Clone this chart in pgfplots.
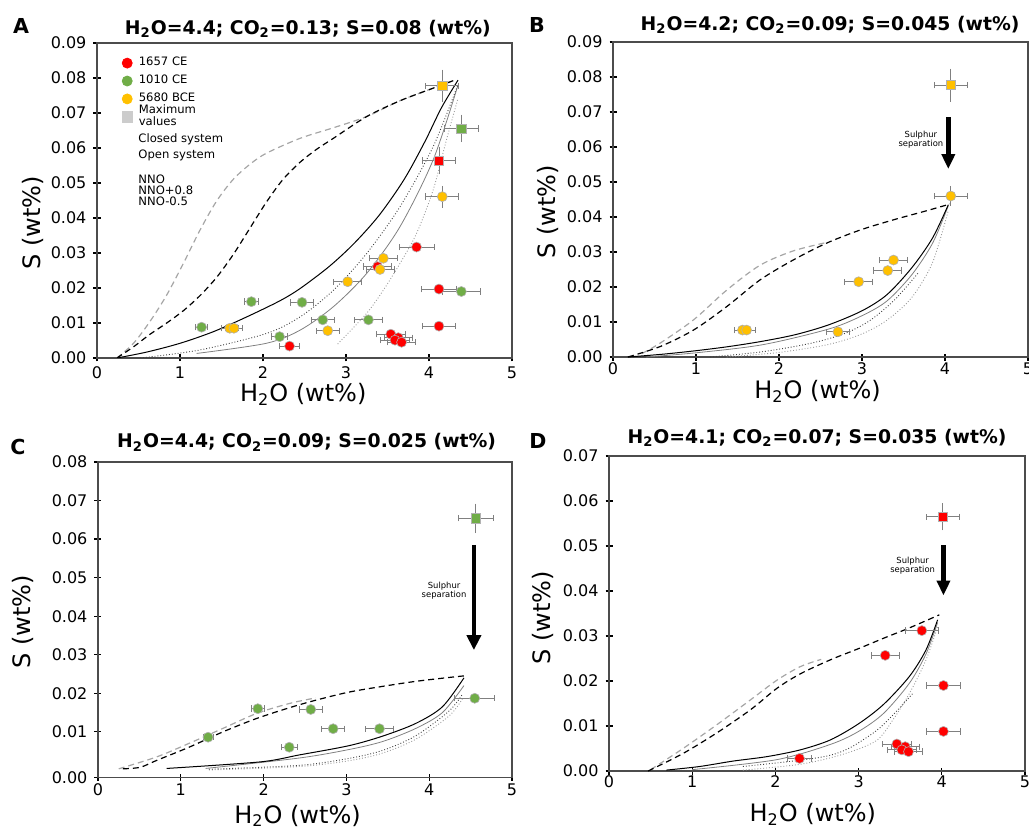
\documentclass[border=0pt]{standalone}
\usepackage{fontspec}
\setmainfont{DejaVu Sans}
\usepackage{pgfplots}
\pgfplotsset{compat=1.18}
\usetikzlibrary{arrows.meta}

\definecolor{c1657}{HTML}{FF0000}
\definecolor{c1010}{HTML}{70AD47}
\definecolor{c5680}{HTML}{FFC000}

\pgfplotsset{
  panel/.style={
    scale only axis,
    xmin=0, xmax=5, xtick={0,...,5},
    axis line style={draw=black!70, line width=0.6pt},
    tick style={black, line width=0.6pt},
    tick align=center, major tick length=3.5pt, tick pos=left,
    ticklabel style={font=\fontsize{8}{9}\selectfont},
    /pgf/number format/assume math mode=true,
    scaled y ticks=false,
    yticklabel style={/pgf/number format/fixed, /pgf/number format/fixed zerofill, /pgf/number format/precision=2},
    xlabel={H\textsubscript{2}O (wt\%)},
    ylabel={S (wt\%)},
    label style={font=\fontsize{12}{14}\selectfont},
    title style={font=\bfseries\fontsize{9.4}{11}\selectfont, anchor=base},
  },
  % circles / squares with horizontal error bars
  pts/.style={only marks, mark=*, mark size=2.5pt,
    mark options={draw=gray!60, line width=0.3pt, fill=#1},
    /pgfplots/error bars/x dir=both, /pgfplots/error bars/x explicit,
    /pgfplots/error bars/error bar style={gray, line width=0.4pt},
    /pgfplots/error bars/error mark options={gray, line width=0.4pt, mark size=1.6pt, rotate=90}},
  maxpt/.style={pts=#1, mark=square*, mark size=2.3pt},
  % vertical error bars only, no marks
  yerr/.style={only marks, mark=none, forget plot,
    /pgfplots/error bars/y dir=both, /pgfplots/error bars/y explicit,
    /pgfplots/error bars/error bar style={gray, line width=0.4pt},
    /pgfplots/error bars/error mark options={gray, line width=0.4pt, mark size=1.6pt}},
  cNNO/.style={black, line width=0.6pt, dash pattern=on 3pt off 2pt, smooth, no marks, forget plot},
  cNNOp/.style={black!35, line width=0.6pt, dash pattern=on 3pt off 2pt, smooth, no marks, forget plot},
  oNNO/.style={black, line width=0.5pt, smooth, no marks, forget plot},
  oNNOp/.style={black!50, line width=0.4pt, smooth, no marks, forget plot},
  oNNOm/.style={black!75, line width=0.45pt, densely dotted, smooth, no marks, forget plot},
  oNNOmm/.style={black!40, line width=0.45pt, densely dotted, smooth, no marks, forget plot},
}

% panel A
\pgfplotstableread{
x y ex ey
3.85 0.0317 0.21 0
3.38 0.0261 0.17 0
4.12 0.0197 0.21 0
4.12 0.0091 0.20 0
2.32 0.0034 0.12 0
3.54 0.0068 0.17 0
3.63 0.0058 0.17 0
3.59 0.0051 0.17 0
3.67 0.0045 0.17 0
}\Ared
\pgfplotstableread{
x y ex ey
4.12 0.0564 0.20 0.003
}\Aredmax
\pgfplotstableread{
x y ex ey
4.39 0.0190 0.23 0
1.86 0.0161 0.08 0
2.47 0.0159 0.14 0
2.72 0.0109 0.14 0
3.27 0.0109 0.17 0
1.26 0.0088 0.07 0
2.20 0.0061 0.10 0
}\Agreen
\pgfplotstableread{
x y ex ey
4.39 0.0656 0.21 0.003
}\Agreenmax
\pgfplotstableread{
x y ex ey
4.16 0.0461 0.20 0.0022
3.45 0.0285 0.17 0
3.41 0.0253 0.17 0
3.02 0.0218 0.17 0
1.60 0.0085 0.10 0
1.65 0.0085 0.10 0
2.78 0.0078 0.14 0
}\Ayellow
\pgfplotstableread{
x y ex ey
4.16 0.0778 0.20 0.0037
}\Ayellowmax

% panel B
\pgfplotstableread{
x y ex ey
4.07 0.0460 0.20 0.002
3.38 0.0277 0.17 0
3.31 0.0247 0.17 0
2.96 0.0215 0.17 0
2.71 0.0072 0.14 0
1.56 0.0077 0.10 0
1.61 0.0077 0.10 0
}\Byellow
\pgfplotstableread{
x y ex ey
4.07 0.0777 0.20 0.0038
}\Byellowmax

% panel C
\pgfplotstableread{
x y ex ey
4.55 0.0187 0.24 0
1.93 0.0160 0.08 0
2.57 0.0158 0.14 0
2.84 0.0108 0.14 0
3.40 0.0108 0.17 0
1.33 0.0086 0.06 0
2.31 0.0060 0.10 0
}\Cgreen
\pgfplotstableread{
x y ex ey
4.56 0.0654 0.21 0.003
}\Cgreenmax

% panel D
\pgfplotstableread{
x y ex ey
3.76 0.0312 0.20 0
3.32 0.0257 0.17 0
4.02 0.0190 0.20 0
4.02 0.0088 0.20 0
3.46 0.0060 0.17 0
3.56 0.0054 0.17 0
3.52 0.0047 0.17 0
3.60 0.0043 0.17 0
2.29 0.0028 0.14 0
}\Dred
\pgfplotstableread{
x y ex ey
4.01 0.0565 0.20 0.0023
}\Dredmax

\begin{document}
\begin{tikzpicture}[x=1pt,y=1pt]
\useasboundingbox (0,0) rectangle (514.5,416);

% ---------------- A ----------------
\begin{axis}[panel, at={(48.5pt,237pt)}, anchor=south west,
  width=207.5pt, height=157.5pt,
  ymin=0, ymax=0.09, ytick={0,0.01,...,0.09},
  xticklabel style={yshift=1pt},
  title={H\textsubscript{2}O=4.4; CO\textsubscript{2}=0.13; S=0.08 (wt\%)},
  title style={at={(axis description cs:0.508,1)}, yshift=-1.7pt},
  xlabel style={at={(axis description cs:0.497,0)}, anchor=base, yshift=-21.8pt},
  ylabel style={at={(axis description cs:-0.154,0.43)}, anchor=center},
  legend style={at={(rel axis cs:0.055,0.961)}, anchor=north west, draw=none, fill=none,
    font=\fontsize{5.8}{5.9}\selectfont, row sep=1.55pt, inner sep=0pt,
    nodes={inner sep=0.8pt}},
  legend cell align=left,
  legend image code/.code={\path[draw=none, fill=none] (0pt,0pt) -- (8.5pt,0pt);
    \draw[mark repeat=2,mark phase=2,#1] plot coordinates {(0pt,0pt)(3.5pt,0pt)(7pt,0pt)};},
]
\addlegendimage{only marks, mark=*, mark size=2.5pt, mark options={draw=c1657, fill=c1657}}
\addlegendentry{1657 CE}
\addlegendimage{only marks, mark=*, mark size=2.5pt, mark options={draw=c1010, fill=c1010}}
\addlegendentry{1010 CE}
\addlegendimage{only marks, mark=*, mark size=2.5pt, mark options={draw=c5680, fill=c5680}}
\addlegendentry{5680 BCE}
\addlegendimage{only marks, mark=square*, mark size=2.6pt, mark options={draw=black!20, fill=black!20}}
\addlegendentry{\vphantom{0}\smash{\begin{tabular}[c]{@{}l@{}}Maximum\\values\end{tabular}}}

\addplot[cNNOp] coordinates {(0.24,0) (0.44,0.0042) (0.64,0.0105) (0.84,0.018) (1.04,0.027) (1.24,0.0365) (1.44,0.0448) (1.64,0.051) (1.84,0.0553) (2.04,0.0585) (2.45,0.0628) (2.85,0.0658) (3.25,0.069) (3.65,0.0735) (4.05,0.0771) (4.31,0.0794)};
\addplot[cNNO] coordinates {(0.24,0) (0.44,0.0032) (0.64,0.0068) (0.84,0.01) (1.04,0.0135) (1.24,0.0178) (1.44,0.023) (1.64,0.0295) (1.84,0.037) (2.04,0.0445) (2.24,0.051) (2.45,0.056) (2.65,0.0597) (2.85,0.0628) (3.25,0.069) (3.65,0.0735) (4.05,0.0771) (4.31,0.0794)};
\addplot[oNNOmm] coordinates {(2.9,0.004) (3.25,0.0128) (3.45,0.0194) (3.65,0.027) (3.85,0.0356) (4.05,0.048) (4.21,0.0623) (4.35,0.0742)};
\addplot[oNNOp] coordinates {(1.2,0.0013) (2.04,0.0042) (2.45,0.008) (2.85,0.0147) (3.25,0.0242) (3.65,0.0375) (4.05,0.0566) (4.35,0.078)};
\addplot[oNNOm] coordinates {(0.52,0) (1.24,0.0023) (2.04,0.007) (2.45,0.0118) (2.85,0.0194) (3.25,0.0299) (3.65,0.0432) (4.05,0.0604) (4.35,0.0782)};
\addplot[oNNO] coordinates {(0.24,0) (0.6,0.0017) (1.0,0.0042) (1.4,0.0075) (1.8,0.0117) (2.2,0.0163) (2.45,0.0199) (2.8,0.0262) (3.1,0.0328) (3.4,0.0408) (3.7,0.051) (3.95,0.0618) (4.15,0.0715) (4.35,0.0794)};

\addplot[yerr] table[x=x, y=y, y error=ey] {\Aredmax};
\addplot[yerr] table[x=x, y=y, y error=ey] {\Agreenmax};
\addplot[yerr] table[x=x, y=y, y error=ey] {\Ayellowmax};
\addplot[yerr] table[x=x, y=y, y error=ey] {\Ayellow};
\addplot[pts=c1657] table[x=x, y=y, x error=ex] {\Ared};
\addplot[maxpt=c1657] table[x=x, y=y, x error=ex] {\Aredmax};
\addplot[pts=c1010] table[x=x, y=y, x error=ex] {\Agreen};
\addplot[maxpt=c1010] table[x=x, y=y, x error=ex] {\Agreenmax};
\addplot[pts=c5680] table[x=x, y=y, x error=ex] {\Ayellow};
\addplot[maxpt=c5680] table[x=x, y=y, x error=ex] {\Ayellowmax};

\node[anchor=west, inner sep=0pt, font=\fontsize{5.8}{5.9}\selectfont] at (rel axis cs:0.099,0.694) {Closed system};
\node[anchor=west, inner sep=0pt, font=\fontsize{5.8}{5.9}\selectfont] at (rel axis cs:0.099,0.643) {Open system};
\node[anchor=west, inner sep=0pt, font=\fontsize{5.8}{5.9}\selectfont] at (rel axis cs:0.099,0.568) {NNO};
\node[anchor=west, inner sep=0pt, font=\fontsize{5.8}{5.9}\selectfont] at (rel axis cs:0.099,0.531) {NNO+0.8};
\node[anchor=west, inner sep=0pt, font=\fontsize{5.8}{5.9}\selectfont] at (rel axis cs:0.099,0.496) {NNO-0.5};
\end{axis}

% ---------------- B ----------------
\begin{axis}[panel, at={(306.5pt,237.5pt)}, anchor=south west,
  width=207.5pt, height=157.5pt,
  ymin=0, ymax=0.09, ytick={0,0.01,...,0.09},
  xticklabel style={yshift=2.5pt},
  title={H\textsubscript{2}O=4.2; CO\textsubscript{2}=0.09; S=0.045 (wt\%)},
  title style={at={(axis description cs:0.523,1)}, yshift=0pt},
  xlabel style={at={(axis description cs:0.493,0)}, anchor=base, yshift=-20.7pt},
  ylabel style={at={(axis description cs:-0.157,0.46)}, anchor=center},
]
\addplot[cNNOp] coordinates {(0.35,0.001) (0.57,0.004) (0.97,0.0106) (1.37,0.0191) (1.77,0.0262) (2.17,0.0303) (2.57,0.0327)};
\addplot[cNNO] coordinates {(0.18,0) (0.57,0.003) (0.97,0.0077) (1.37,0.0144) (1.77,0.022) (2.17,0.0277) (2.57,0.0325) (2.98,0.0363) (3.38,0.0392) (3.78,0.0418) (4.06,0.0437)};
\addplot[oNNOmm] coordinates {(1.37,0) (2.0,0.0013) (2.6,0.0036) (3.0,0.0066) (3.3,0.0105) (3.6,0.017) (3.85,0.027) (4.04,0.0419)};
\addplot[oNNOm] coordinates {(1.17,0) (1.8,0.0015) (2.4,0.004) (2.8,0.0068) (3.1,0.0105) (3.4,0.0165) (3.68,0.0241)};
\addplot[oNNOp] coordinates {(0.4,0) (1.0,0.0012) (1.8,0.0035) (2.6,0.008) (3.0,0.0118) (3.3,0.016) (3.6,0.0235) (3.85,0.0325) (4.04,0.0432)};
\addplot[oNNO] coordinates {(0.18,0) (0.6,0.0008) (1.0,0.0018) (1.4,0.003) (1.8,0.0045) (2.2,0.0064) (2.6,0.0092) (3.0,0.0132) (3.3,0.0178) (3.6,0.0255) (3.85,0.034) (4.04,0.0435)};

\addplot[yerr] table[x=x, y=y, y error=ey] {\Byellowmax};
\addplot[yerr] table[x=x, y=y, y error=ey] {\Byellow};
\addplot[pts=c5680] table[x=x, y=y, x error=ex] {\Byellow};
\addplot[maxpt=c5680] table[x=x, y=y, x error=ex] {\Byellowmax};

\draw[line width=2.4pt, -{Triangle[width=6.5pt,length=7.5pt]}] (axis cs:4.04,0.0685) -- (axis cs:4.04,0.0537);
\node[font=\fontsize{4.2}{4.4}\selectfont, align=center] at (axis cs:3.71,0.062) {Sulphur\\separation};
\end{axis}

% ---------------- C ----------------
\begin{axis}[panel, at={(49pt,27.35pt)}, anchor=south west,
  width=207pt, height=157.65pt,
  ymin=-0.0018, ymax=0.08, ytick={-0.0018,0.01,0.02,0.03,0.04,0.05,0.06,0.07,0.08},
  yticklabels={0.00,0.01,0.02,0.03,0.04,0.05,0.06,0.07,0.08},
  xticklabel style={yshift=2pt},
  title={H\textsubscript{2}O=4.4; CO\textsubscript{2}=0.09; S=0.025 (wt\%)},
  title style={at={(axis description cs:0.504,1)}, yshift=1.2pt},
  xlabel style={at={(axis description cs:0.482,0)}, anchor=base, yshift=-23pt},
  ylabel style={at={(axis description cs:-0.181,0.493)}, anchor=center},
]
\addplot[cNNOp] coordinates {(0.25,0.0004) (0.71,0.0035) (1.11,0.0071) (1.51,0.0109) (1.92,0.0148) (2.32,0.0174) (2.63,0.0188)};
\addplot[cNNO] coordinates {(0.3,0.0004) (0.51,0.0008) (0.71,0.0026) (1.11,0.0061) (1.51,0.01) (1.92,0.0135) (2.32,0.0163) (2.63,0.0182) (3.03,0.0203) (3.44,0.0218) (3.84,0.0231) (4.24,0.0241) (4.46,0.0246)};
\addplot[oNNOmm] coordinates {(1.34,0.0001) (2.43,0.001) (3.03,0.0025) (3.44,0.0045) (3.84,0.0081) (4.24,0.0141) (4.4,0.0185)};
\addplot[oNNOm] coordinates {(1.34,0.0003) (2.43,0.0013) (3.03,0.0031) (3.44,0.0052) (3.84,0.009) (4.24,0.0154) (4.4,0.0197)};
\addplot[oNNOp] coordinates {(1.3,0.0005) (2.43,0.0032) (3.03,0.0054) (3.44,0.0075) (3.84,0.0109) (4.16,0.015) (4.42,0.022)};
\addplot[oNNO] coordinates {(0.83,0.0005) (1.96,0.0022) (2.43,0.004) (3.03,0.0064) (3.44,0.0089) (3.84,0.0122) (4.16,0.0165) (4.42,0.024)};

\addplot[yerr] table[x=x, y=y, y error=ey] {\Cgreenmax};
\addplot[pts=c1010] table[x=x, y=y, x error=ex] {\Cgreen};
\addplot[maxpt=c1010] table[x=x, y=y, x error=ex] {\Cgreenmax};

\draw[line width=2.3pt, -{Triangle[width=7pt,length=7.5pt]}] (axis cs:4.54,0.0585) -- (axis cs:4.54,0.0312);
\node[font=\fontsize{4.2}{4.4}\selectfont, align=center] at (axis cs:4.18,0.0467) {Sulphur\\separation};
\end{axis}

% ---------------- D ----------------
\begin{axis}[panel, at={(304.5pt,30.5pt)}, anchor=south west,
  width=208pt, height=157.5pt,
  ymin=0, ymax=0.07, ytick={0,0.01,...,0.07},
  xticklabel style={yshift=3pt},
  title={H\textsubscript{2}O=4.1; CO\textsubscript{2}=0.07; S=0.035 (wt\%)},
  title style={at={(axis description cs:0.5,1)}, yshift=0.3pt},
  xlabel style={at={(axis description cs:0.49,0)}, anchor=base, yshift=-25.3pt},
  ylabel style={at={(axis description cs:-0.159,0.487)}, anchor=center},
]
\addplot[cNNOp] coordinates {(0.5,0.0003) (0.89,0.005) (1.29,0.0102) (1.7,0.0158) (2.02,0.0202) (2.3,0.0232) (2.55,0.0248)};
\addplot[cNNO] coordinates {(0.47,0) (0.89,0.0039) (1.29,0.0084) (1.7,0.0136) (2.02,0.0184) (2.3,0.0216) (2.66,0.0247) (3.0,0.0272) (3.3,0.0295) (3.61,0.0318) (3.97,0.0347)};
\addplot[oNNOmm] coordinates {(1.61,0.0002) (2.3,0.0015) (2.81,0.0037) (3.21,0.0067) (3.41,0.0113) (3.61,0.0172) (3.81,0.0247) (3.95,0.0321)};
\addplot[oNNOm] coordinates {(1.61,0.001) (2.3,0.0024) (2.66,0.0035) (2.9,0.0052) (3.21,0.0089) (3.41,0.0124) (3.65,0.0172)};
\addplot[oNNOp] coordinates {(1.0,0.0003) (2.01,0.0025) (2.66,0.0059) (3.0,0.0088) (3.3,0.0128) (3.61,0.0195) (3.81,0.026) (3.95,0.033)};
\addplot[oNNO] coordinates {(0.69,0.0002) (1.09,0.001) (1.49,0.0022) (1.9,0.0032) (2.3,0.0047) (2.66,0.0069) (3.0,0.0105) (3.3,0.0148) (3.61,0.021) (3.81,0.0269) (3.95,0.0336)};

\addplot[yerr] table[x=x, y=y, y error=ey] {\Dredmax};
\addplot[pts=c1657] table[x=x, y=y, x error=ex] {\Dred};
\addplot[maxpt=c1657] table[x=x, y=y, x error=ex] {\Dredmax};

\draw[line width=2.4pt, -{Triangle[width=6.5pt,length=7.5pt]}] (axis cs:4.02,0.0502) -- (axis cs:4.02,0.039);
\node[font=\fontsize{4.2}{4.4}\selectfont, align=center] at (axis cs:3.65,0.0457) {Sulphur\\separation};
\end{axis}

% panel letters
\node[font=\bfseries\fontsize{10.3}{12}\selectfont] at (10.5,403.25) {A};
\node[font=\bfseries\fontsize{10.3}{12}\selectfont] at (268.5,403.5) {B};
\node[font=\bfseries\fontsize{10.3}{12}\selectfont] at (9,192.5) {C};
\node[font=\bfseries\fontsize{10.3}{12}\selectfont] at (269,195.5) {D};
\end{tikzpicture}
\end{document}
